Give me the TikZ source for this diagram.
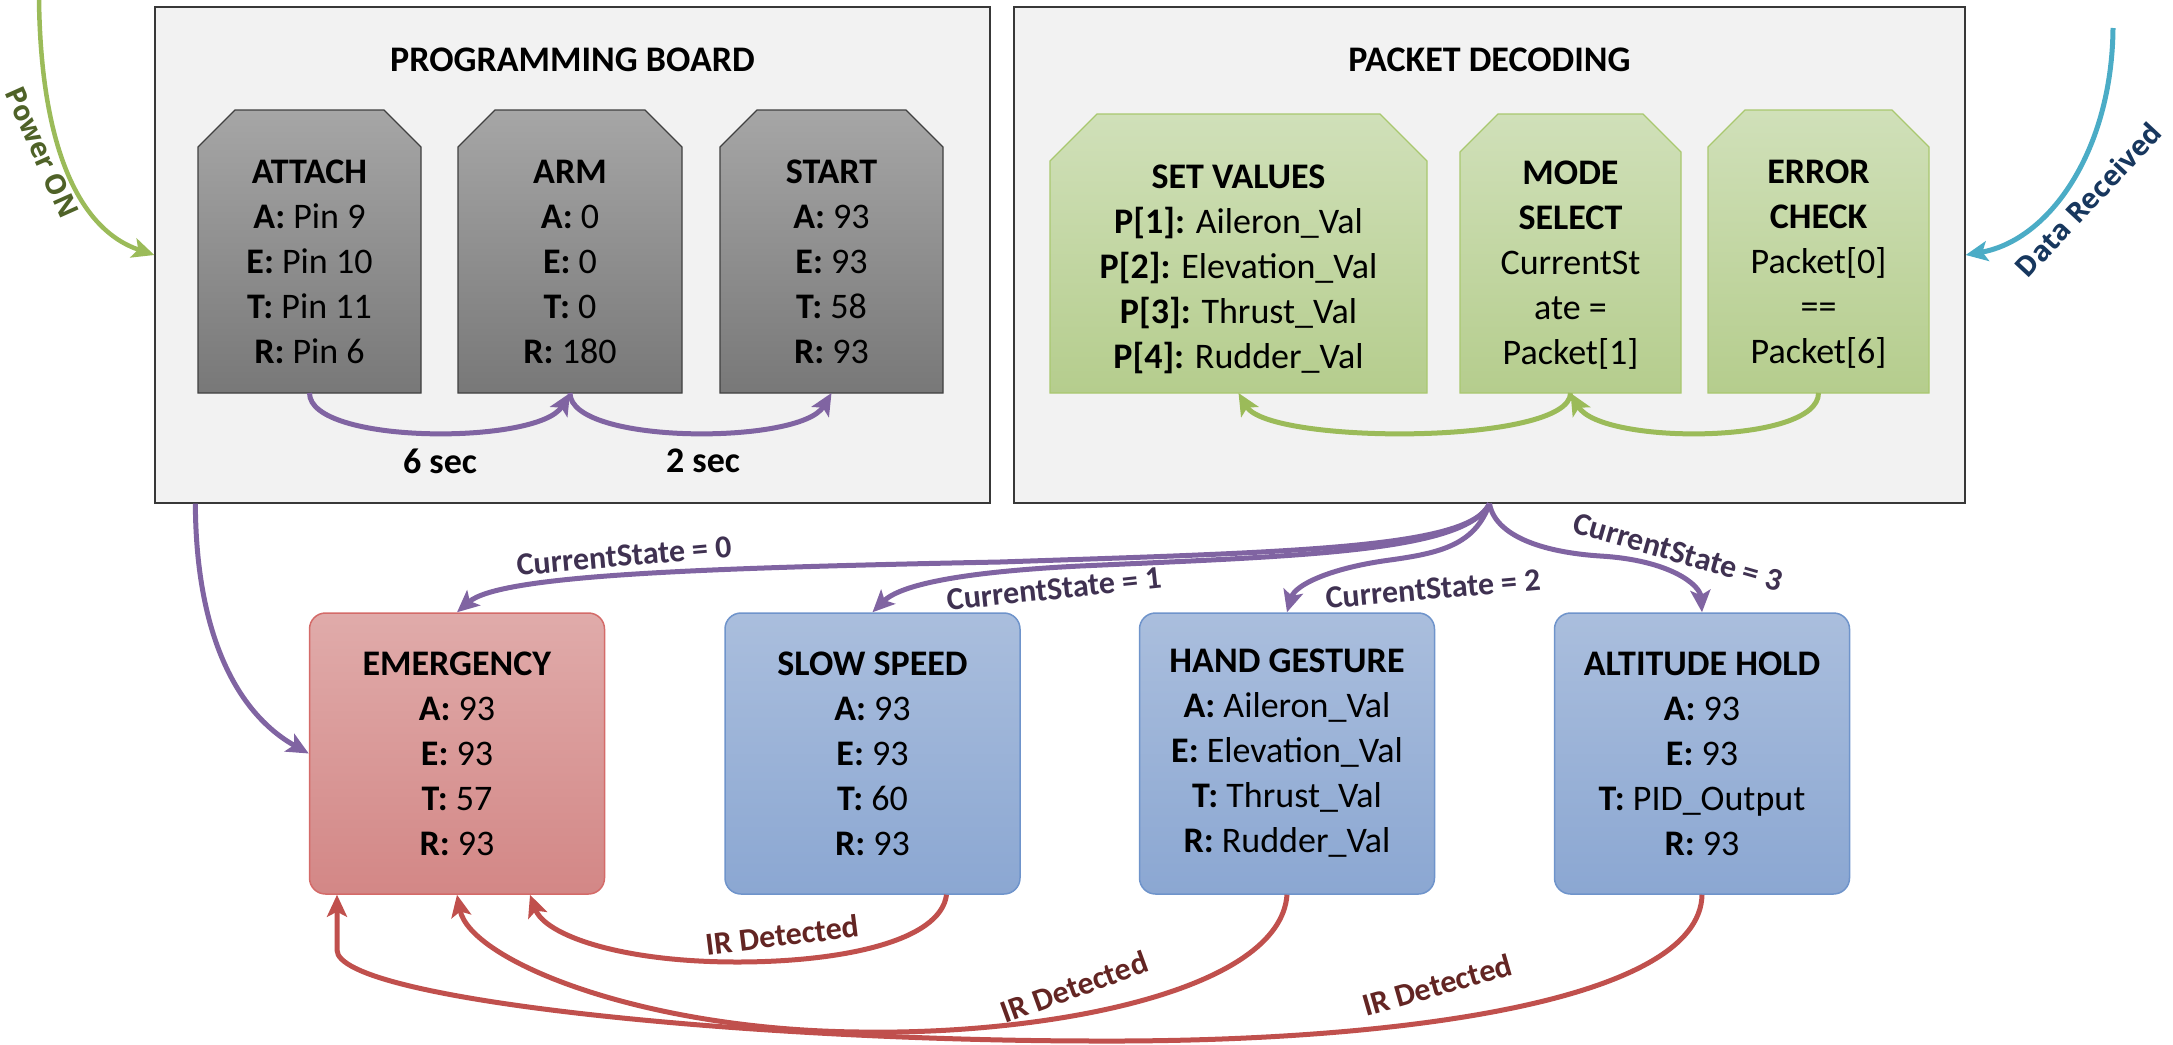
\documentclass[tikz,border=0pt]{standalone}
\usepackage{fontspec}
\setmainfont{Carlito}
\newfontfamily\osans{Open Sans}
\usetikzlibrary{arrows.meta}
\definecolor{pline}{HTML}{8064A2}
\definecolor{gline}{HTML}{9BBB59}
\definecolor{rline}{HTML}{C0504D}
\definecolor{bline}{HTML}{4BACC6}
\definecolor{plabel}{HTML}{3F3151}
\definecolor{rlabel}{HTML}{632523}
\definecolor{powtxt}{HTML}{4F6228}
\definecolor{datatxt}{HTML}{17375E}
\definecolor{bggrey}{HTML}{F2F2F2}
\definecolor{gtop}{HTML}{A6A6A6}
\definecolor{gbot}{HTML}{787878}
\definecolor{grtop}{HTML}{D0E0B9}
\definecolor{grbot}{HTML}{B5CD8D}
\definecolor{grborder}{HTML}{A9C86F}
\definecolor{rtop}{HTML}{E0ABAA}
\definecolor{rbot}{HTML}{D38786}
\definecolor{rborder}{HTML}{D46B69}
\definecolor{btop}{HTML}{AABEDD}
\definecolor{bbot}{HTML}{8BA7D2}
\definecolor{bborder}{HTML}{6F94CB}
\newcommand\chamfershape[3]{%
  \path[#3] (#1.south west) -- ([yshift=-#2]#1.north west) -- ([xshift=#2]#1.north west)
    -- ([xshift=-#2]#1.north east) -- ([yshift=-#2]#1.north east) -- (#1.south east) -- cycle;}
\tikzset{
  bigbox/.style={draw=black!78, line width=1.3pt, fill=bggrey, inner sep=0pt},
  holder/.style={inner sep=0pt, outer sep=0pt},
  greyshape/.style={draw=black!75, line width=1.2pt, top color=gtop, bottom color=gbot},
  greenshape/.style={draw=grborder, line width=1.2pt, top color=grtop, bottom color=grbot},
  txt/.style={align=center, font=\fontsize{36}{45}\selectfont, inner sep=0pt},
  ttl/.style={font=\bfseries\fontsize{36}{45}\selectfont, inner sep=0pt},
  statebox/.style={rounded corners=16pt, line width=1.5pt, minimum width=295pt,
    minimum height=281pt, align=center, font=\fontsize{36}{45}\selectfont, inner sep=0pt},
  redbox/.style={statebox, draw=rborder, top color=rtop, bottom color=rbot},
  bluebox/.style={statebox, draw=bborder, top color=btop, bottom color=bbot},
  tip/.style={-{Stealth[length=22pt,width=20pt,inset=5pt]}},
  parrow/.style={draw=pline, line width=5pt, tip},
  garrow/.style={draw=gline, line width=5pt, tip},
  rarrow/.style={draw=rline, line width=5pt, tip},
  barrow/.style={draw=bline, line width=5pt, tip},
  plbl/.style={text=plabel, font=\bfseries\fontsize{32}{38}\selectfont, inner sep=0pt},
  rlbl/.style={text=rlabel, font=\bfseries\fontsize{32}{38}\selectfont, inner sep=0pt},
}
\begin{document}
\begin{tikzpicture}[x=1pt,y=-1pt]
\useasboundingbox (0,0) rectangle (2173,1044);

% big boxes
\node[bigbox, minimum width=835pt, minimum height=496pt] (pb) at (572.5,255) {};
\node[bigbox, minimum width=951pt, minimum height=496pt] (pd) at (1489.5,255) {};
\node[ttl] (pbT) at (572.5,60) {PROGRAMMING BOARD};
\node[ttl] (pdT) at (1489.5,60) {PACKET DECODING};

% programming board shapes
\node[holder, minimum width=223pt, minimum height=283pt] (attach) at (309.5,251.5) {};
\node[holder, minimum width=224pt, minimum height=283pt] (arm) at (570,251.5) {};
\node[holder, minimum width=223pt, minimum height=283pt] (start) at (831.5,251.5) {};
\chamfershape{attach}{37pt}{greyshape}
\chamfershape{arm}{37pt}{greyshape}
\chamfershape{start}{37pt}{greyshape}
\node[txt] (attachT) at (309.5,261.5) {\textbf{ATTACH}\\\textbf{A:} Pin 9\\\textbf{E:} Pin 10\\\textbf{T:} Pin 11\\\textbf{R:} Pin 6};
\node[txt] (armT) at (570,261.5) {\textbf{ARM}\\\textbf{A:} 0\\\textbf{E:} 0\\\textbf{T:} 0\\\textbf{R:} 180};
\node[txt] (startT) at (831.5,261.5) {\textbf{START}\\\textbf{A:} 93\\\textbf{E:} 93\\\textbf{T:} 58\\\textbf{R:} 93};

% packet decoding shapes
\node[holder, minimum width=377pt, minimum height=279pt] (setv) at (1238.5,253.5) {};
\node[holder, minimum width=221pt, minimum height=279pt] (mode) at (1570.5,253.5) {};
\node[holder, minimum width=221pt, minimum height=283pt] (error) at (1818.5,251.5) {};
\chamfershape{setv}{47pt}{greenshape}
\chamfershape{mode}{38pt}{greenshape}
\chamfershape{error}{37pt}{greenshape}
\node[txt] (setvT) at (1238.5,269) {\textbf{SET VALUES}\\\textbf{P[1]:} Aileron\_Val\\\textbf{P[2]:} Elevation\_Val\\\textbf{P[3]:} Thrust\_Val\\\textbf{P[4]:} Rudder\_Val};
\node[txt] (modeT) at (1570.5,265) {\textbf{MODE}\\\textbf{SELECT}\\CurrentSt\\ate =\\Packet[1]};
\node[txt] (errorT) at (1818.5,264) {\textbf{ERROR}\\\textbf{CHECK}\\Packet[0]\\==\\Packet[6]};

% timing arrows
\draw[parrow] (attach.south) .. controls +(0,52) and +(-31,52) .. (arm.south);
\draw[parrow] (arm.south) .. controls +(0,52) and +(-31,52) .. (start.south);
\node[ttl] (sixsec) at (440,461) {6 sec};
\node[ttl] (twosec) at (703,461) {2 sec};
\draw[garrow] (error.south) .. controls +(0,52) and +(30,52) .. (mode.south);
\draw[garrow] (mode.south) .. controls +(0,52) and +(31,52) .. (setv.south);

% state boxes
\node[redbox] (emerg) at (457,753.5) {\textbf{EMERGENCY}\\\textbf{A:} 93\\\textbf{E:} 93\\\textbf{T:} 57\\\textbf{R:} 93};
\node[bluebox] (slow) at (872.5,753.5) {\textbf{SLOW SPEED}\\\textbf{A:} 93\\\textbf{E:} 93\\\textbf{T:} 60\\\textbf{R:} 93};
\node[bluebox] (hand) at (1287,753.5) {\textbf{HAND GESTURE}\\\textbf{A:} Aileron\_Val\\\textbf{E:} Elevation\_Val\\\textbf{T:} Thrust\_Val\\\textbf{R:} Rudder\_Val};
\node[bluebox] (alt) at (1702,753.5) {\textbf{ALTITUDE HOLD}\\\textbf{A:} 93\\\textbf{E:} 93\\\textbf{T:} PID\_Output\\\textbf{R:} 93};

% power / data arrows
\coordinate (pstart) at (39,0);
\coordinate (dstart) at (2113,28);
\draw[garrow, line width=4.5pt] (pstart) .. controls (41,150) and (80,230) .. (pb.west);
\node[text=powtxt, font=\osans\bfseries\fontsize{28}{34}\selectfont, rotate=-66, inner sep=0pt] (powT) at (42,152) {Power ON};
\draw[barrow] (dstart) .. controls (2112,150) and (2050,240) .. (pd.east);
\node[text=datatxt, font=\osans\bfseries\fontsize{28}{34}\selectfont, rotate=47, inner sep=0pt] (dataT) at (2088,200) {Data Received};

% mode select arrows
\draw[parrow] (pd.south) .. controls (1470,548) and (1300,552) .. (1000,562) .. controls (700,568) and (500,575) .. (emerg.north);
\draw[parrow] (pd.south) .. controls (1465,552) and (1300,556) .. (1080,566) .. controls (960,572) and (900,585) .. (slow.north);
\draw[parrow] (pd.south) .. controls (1475,545) and (1440,553) .. (1390,560) .. controls (1330,568) and (1295,585) .. (hand.north);
\draw[parrow] (pd.south) .. controls (1495,535) and (1540,552) .. (1600,556) .. controls (1670,560) and (1700,585) .. (alt.north);
\node[plbl, rotate=5] (cs0) at (624,556) {CurrentState = 0};
\node[plbl, rotate=6] (cs1) at (1054,589) {CurrentState = 1};
\node[plbl, rotate=5] (cs2) at (1433,589) {CurrentState = 2};
\node[plbl, rotate=-16] (cs3) at (1678,552) {CurrentState = 3};

% power-on to emergency
\draw[parrow] ([xshift=41pt]pb.south west) .. controls (196,640) and (240,715) .. (emerg.west);

% IR detected arrows
\draw[rarrow] ([xshift=74pt]slow.south) .. controls +(-6,47) and (840,962) .. (737,962) .. controls (620,962) and (545,935) .. ([xshift=73pt]emerg.south);
\draw[rarrow] (hand.south) .. controls +(-7,96) and (1050,1035) .. (860,1032) .. controls (640,1030) and (470,960) .. (emerg.south);
\draw[rarrow] (alt.south) .. controls +(-2,106) and (1400,1042) .. (1100,1041) .. controls (750,1041) and (337,1000) .. (337,950) -- ([xshift=-120pt]emerg.south);
\node[rlbl, rotate=7] (ir1) at (782,935) {IR Detected};
\node[rlbl, rotate=20] (ir2) at (1074,987) {IR Detected};
\node[rlbl, rotate=16] (ir3) at (1437,985) {IR Detected};
\end{tikzpicture}
\end{document}
